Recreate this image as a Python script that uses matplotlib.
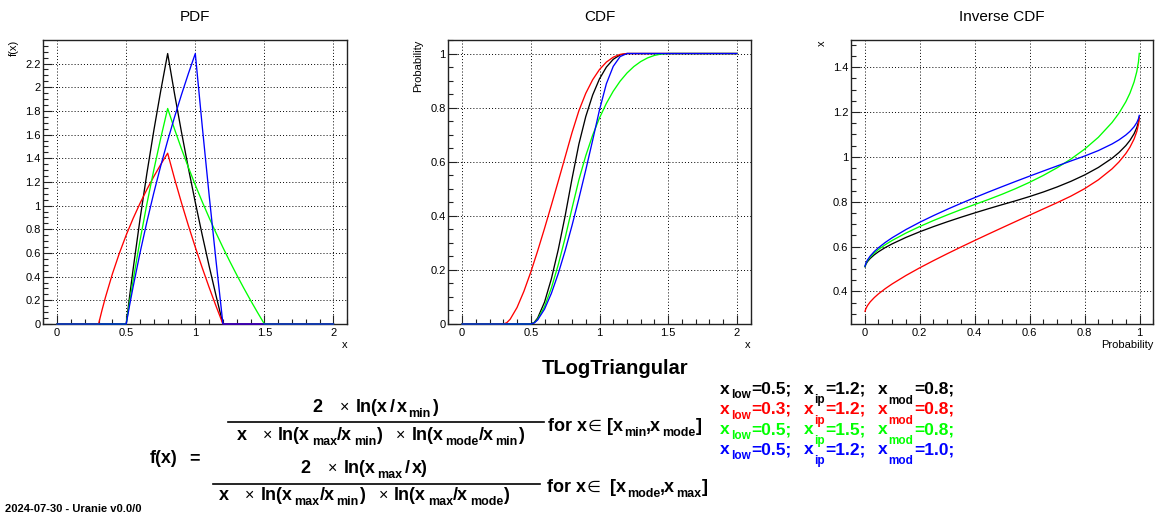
import matplotlib
matplotlib.use('Agg')
import matplotlib.pyplot as plt
from matplotlib.ticker import MultipleLocator, FuncFormatter
from matplotlib.lines import Line2D

plt.rcParams['font.family'] = ['Liberation Sans', 'DejaVu Sans']

# ---------------- data ----------------
colors = ['black', 'red', '#00ff00', 'blue']

x_low = [0.5, 0.3, 0.5, 0.5]
x_ip = [1.2, 1.2, 1.5, 1.2]
x_mod = [0.8, 0.8, 0.8, 1.0]

x_black = [0.0, 0.5, 0.525, 0.55, 0.6, 0.65, 0.7, 0.75, 0.8, 0.85, 0.9, 0.95, 1.0, 1.05, 1.1, 1.15, 1.2,
           2.0]
x_red = [0.0, 0.3, 0.325, 0.35, 0.4, 0.45, 0.5, 0.55, 0.6, 0.65, 0.7, 0.75, 0.8, 0.85, 0.9, 0.95, 1.0,
         1.05, 1.1, 1.15, 1.2, 2.0]
x_green = [0.0, 0.5, 0.525, 0.55, 0.6, 0.65, 0.7, 0.75, 0.8, 0.85, 0.9, 0.95, 1.0, 1.05, 1.1, 1.15, 1.2,
           1.25, 1.3, 1.35, 1.4, 1.45, 1.5, 2.0]
x_blue = [0.0, 0.5, 0.525, 0.55, 0.6, 0.65, 0.7, 0.75, 0.8, 0.85, 0.9, 0.95, 1.0, 1.05, 1.1, 1.15, 1.2,
          2.0]

pdf_black = [0, 0, 0.2372, 0.4633, 0.8862, 1.2752, 1.6355, 1.9708, 2.2845, 1.9429, 1.6209, 1.3163,
             1.0273, 0.7524, 0.4902, 0.2398, 0, 0]
pdf_red = [0, 0, 0.1177, 0.2267, 0.4231, 0.5964, 0.7514, 0.8916, 1.0195, 1.1373, 1.2463, 1.3478,
           1.4427, 1.2270, 1.0236, 0.8312, 0.6487, 0.4751, 0.3096, 0.1514, 0, 0]
pdf_green = [0, 0, 0.1890, 0.3692, 0.7062, 1.0162, 1.3033, 1.5705, 1.8205, 1.6449, 1.4794, 1.3228,
             1.1742, 1.0330, 0.8982, 0.7695, 0.6462, 0.5280, 0.4144, 0.3051, 0.1998, 0.0982, 0, 0]
pdf_blue = [0, 0, 0.1608, 0.3141, 0.6009, 0.8647, 1.1089, 1.3363, 1.5490, 1.7489, 1.9372, 2.1154,
            2.2845, 1.6731, 1.0903, 0.5333, 0, 0]

cdf_black = [0, 0, 0.0058, 0.0221, 0.0808, 0.1673, 0.2751, 0.3996, 0.5369, 0.6650, 0.7669, 0.8463,
             0.9064, 0.9498, 0.9787, 0.9949, 1, 1]
cdf_red = [0, 0, 0.0047, 0.0175, 0.0609, 0.1209, 0.1919, 0.2702, 0.3533, 0.4397, 0.5280, 0.6175,
           0.7075, 0.7884, 0.8528, 0.9029, 0.9409, 0.9683, 0.9865, 0.9968, 1, 1]
cdf_green = [0, 0, 0.0046, 0.0176, 0.0644, 0.1333, 0.2193, 0.3184, 0.4278, 0.5329, 0.6221, 0.6979,
             0.7619, 0.8158, 0.8607, 0.8978, 0.9279, 0.9519, 0.9703, 0.9839, 0.9931, 0.9983, 1, 1]
cdf_blue = [0, 0, 0.0039, 0.0150, 0.0548, 0.1134, 0.1866, 0.2709, 0.3640, 0.4640, 0.5693, 0.6789,
            0.7917, 0.8883, 0.9526, 0.9887, 1, 1]

prob = [0.001, 0.004, 0.01, 0.02, 0.035, 0.05, 0.075, 0.1, 0.15, 0.2, 0.25, 0.3, 0.35, 0.4, 0.45, 0.5,
        0.55, 0.6, 0.65, 0.7, 0.75, 0.8, 0.85, 0.9, 0.925, 0.95, 0.965, 0.98, 0.99, 0.996, 0.999]
inv_black = [0.5102, 0.5207, 0.5331, 0.5475, 0.5638, 0.5771, 0.5960, 0.6124, 0.6410, 0.6661, 0.6891,
             0.7105, 0.7308, 0.7502, 0.7689, 0.7870, 0.8046, 0.8233, 0.8435, 0.8659, 0.8909, 0.9193,
             0.9527, 0.9939, 1.0193, 1.0503, 1.0734, 1.1030, 1.1306, 1.1556, 1.1776]
inv_red = [0.3113, 0.3230, 0.3371, 0.3538, 0.3731, 0.3894, 0.4129, 0.4338, 0.4713, 0.5054, 0.5374,
           0.5682, 0.5980, 0.6272, 0.6559, 0.6842, 0.7123, 0.7403, 0.7681, 0.7958, 0.8249, 0.8582,
           0.8976, 0.9467, 0.9773, 1.0148, 1.0430, 1.0793, 1.1133, 1.1444, 1.1719]
inv_green = [0.5115, 0.5232, 0.5373, 0.5535, 0.5719, 0.5872, 0.6087, 0.6276, 0.6604, 0.6895, 0.7162,
             0.7411, 0.7649, 0.7877, 0.8099, 0.8335, 0.8590, 0.8868, 0.9174, 0.9515, 0.9900, 1.0344,
             1.0872, 1.1534, 1.1947, 1.2456, 1.2840, 1.3337, 1.3804, 1.4232, 1.4611]
inv_blue = [0.5125, 0.5253, 0.5405, 0.5582, 0.5784, 0.5951, 0.6189, 0.6397, 0.6761, 0.7084, 0.7381,
            0.7661, 0.7927, 0.8183, 0.8432, 0.8673, 0.8910, 0.9142, 0.9370, 0.9595, 0.9817, 1.0037,
            1.0280, 1.0576, 1.0756, 1.0974, 1.1136, 1.1341, 1.1530, 1.1701, 1.1849]

xs = [x_black, x_red, x_green, x_blue]
pdfs = [pdf_black, pdf_red, pdf_green, pdf_blue]
cdfs = [cdf_black, cdf_red, cdf_green, cdf_blue]
invs = [inv_black, inv_red, inv_green, inv_blue]

# ---------------- figure ----------------
W, H = 1157, 518
fig = plt.figure(figsize=(W / 100, H / 100), dpi=100)
renderer = fig.canvas.get_renderer()


def fxp(px):
    return px / W


def fyp(py):
    return 1 - py / H


FRAME = '#222222'


def fmt(v, pos):
    return f'{v:g}'


def make_axes(left, right, xlim, ylim, xmaj, xmin, ymaj, ymin):
    ax = fig.add_axes([fxp(left), fyp(324), (right - left) / W, (324 - 40) / H])
    ax.set_xlim(*xlim)
    ax.set_ylim(*ylim)
    ax.xaxis.set_major_locator(MultipleLocator(xmaj))
    ax.xaxis.set_minor_locator(MultipleLocator(xmin))
    ax.yaxis.set_major_locator(MultipleLocator(ymaj))
    ax.yaxis.set_minor_locator(MultipleLocator(ymin))
    ax.xaxis.set_major_formatter(FuncFormatter(fmt))
    ax.yaxis.set_major_formatter(FuncFormatter(fmt))
    ax.tick_params(which='both', direction='in', top=False, right=False,
                   labelsize=8, color=FRAME, width=0.8)
    ax.tick_params(which='major', length=6.5)
    ax.tick_params(which='minor', length=3.3)
    ax.tick_params(axis='x', pad=3)
    ax.tick_params(axis='y', pad=2)
    for s in ax.spines.values():
        s.set_color(FRAME)
        s.set_linewidth(1.0)
    ax.set_axisbelow(True)
    ax.grid(which='major', color='black', linestyle=(0, (1, 2.2)), linewidth=0.7)
    return ax


ax1 = make_axes(43.3, 347.3, (-0.1, 2.1), (0, 2.399), 0.5, 0.1, 0.2, 0.05)
ax2 = make_axes(448.3, 750.7, (-0.1, 2.1), (0, 1.05), 0.5, 0.1, 0.2, 0.05)
ax3 = make_axes(851.0, 1153.3, (-0.05, 1.05), (0.255, 1.521), 0.2, 0.05, 0.2, 0.05)

for x, p, c, col in zip(xs, pdfs, cdfs, colors):
    ax1.plot(x, p, color=col, lw=0.95, zorder=3, clip_on=False)
    ax2.plot(x, c, color=col, lw=0.95, zorder=3, clip_on=False)
for inv, col in zip(invs, colors):
    ax3.plot(prob, inv, color=col, lw=0.95, zorder=3)

# titles
for cx, t in [(195.3, 'PDF'), (599.5, 'CDF'), (1002.0, 'Inverse CDF')]:
    fig.text(fxp(cx), fyp(17), t, fontsize=11, ha='center', va='center')

# axis titles
ax1.text(-0.096, 1.0, 'f(x)', transform=ax1.transAxes, rotation=90, ha='center', va='top', fontsize=8)
ax1.text(1.0, -0.074, 'x', transform=ax1.transAxes, ha='right', va='center', fontsize=8)
ax2.text(-0.099, 1.0, 'Probability', transform=ax2.transAxes, rotation=90, ha='center', va='top', fontsize=8)
ax2.text(1.0, -0.074, 'x', transform=ax2.transAxes, ha='right', va='center', fontsize=8)
ax3.text(-0.095, 1.0, 'x', transform=ax3.transAxes, rotation=90, ha='center', va='top', fontsize=8)
ax3.text(1.0, -0.074, 'Probability', transform=ax3.transAxes, ha='right', va='center', fontsize=8)

# ---------------- lower text ----------------
fig.text(fxp(615), fyp(368), 'TLogTriangular', fontsize=14.5, fontweight='bold', ha='center', va='center')

FM, FSUB, FOP, DROP = 13.0, 9.0, 11.5, 5.0


def seq(pieces, x, yb, align='left', color='black'):
    """Lay out text pieces left to right: ('txt','m') main bold, ('txt','s') subscript,
    ('txt','o') normal-weight operator, numbers = gaps in pixels."""
    items = []
    total = 0.0
    for p in pieces:
        if isinstance(p, (int, float)):
            items.append((None, p, None))
            total += p
            continue
        txt, kind = p
        fs = {'s': FSUB, 'o': FOP}.get(kind, FM)
        fw = 'normal' if kind == 'o' else 'bold'
        t = fig.text(0, 0, txt, fontsize=fs, fontweight=fw, color=color, va='baseline', ha='left')
        w = t.get_window_extent(renderer).width
        items.append((t, w, kind))
        total += w
    cur = x - total / 2 if align == 'center' else x
    for t, w, kind in items:
        if t is not None:
            dy = DROP if kind == 's' else 0
            t.set_position((fxp(cur), fyp(yb + dy)))
        cur += w


TIMES = '\u00d7'
seq([('2', 'm'), 18, (TIMES, 'o'), 6, ('ln(x', 'm'), 2, ('/', 'm'), 2, ('x', 'm'), 2, ('min', 's'),
     1, (')', 'm')], 375, 412, 'center')
fig.add_artist(Line2D([fxp(228), fxp(544)], [fyp(422), fyp(422)], color='black', lw=1.2))
seq([('x', 'm'), 16, (TIMES, 'o'), 6, ('ln(x', 'm'), 2, ('max', 's'), ('/x', 'm'), 2, ('min', 's'),
     (')', 'm'), 14, (TIMES, 'o'), 6, ('ln(x', 'm'), 2, ('mode', 's'), ('/x', 'm'), 2, ('min', 's'),
     (')', 'm')], 380, 440, 'center')
seq([('for x', 'm'), 1, ('\u2208', 'o'), 5, ('[x', 'm'), 1, ('min', 's'), (',x', 'm'), 1, ('mode', 's'),
     (']', 'm')], 548, 431)
seq([('f(x)', 'm'), 11, ('=', 'm')], 150, 463)
seq([('2', 'm'), 18, (TIMES, 'o'), 6, ('ln(x', 'm'), 2, ('max', 's'), 2, ('/', 'm'), 2, ('x)', 'm')],
    364, 473, 'center')
fig.add_artist(Line2D([fxp(213), fxp(540)], [fyp(484), fyp(484)], color='black', lw=1.2))
seq([('x', 'm'), 16, (TIMES, 'o'), 6, ('ln(x', 'm'), 2, ('max', 's'), ('/x', 'm'), 2, ('min', 's'),
     (')', 'm'), 14, (TIMES, 'o'), 6, ('ln(x', 'm'), 2, ('max', 's'), ('/x', 'm'), 2, ('mode', 's'),
     (')', 'm')], 364, 500, 'center')
seq([('for x', 'm'), 1, ('\u2208', 'o'), 9, ('[x', 'm'), 1, ('mode', 's'), (',x', 'm'), 1, ('max', 's'),
     (']', 'm')], 547, 492)

# parameter legend
MAIN, SUB = 12.5, 8.5
for i, col in enumerate(colors):
    yb = 393.5 + 20.3 * i
    kw = dict(color=col, fontweight='bold', va='baseline', ha='left')
    fig.text(fxp(720), fyp(yb), 'x', fontsize=MAIN, **kw)
    fig.text(fxp(730.7), fyp(yb + 5), 'low', fontsize=SUB, **kw)
    fig.text(fxp(751.7), fyp(yb), f'={x_low[i]:.1f};', fontsize=MAIN, **kw)
    fig.text(fxp(804.3), fyp(yb), 'x', fontsize=MAIN, **kw)
    fig.text(fxp(814.3), fyp(yb + 10), 'ip', fontsize=SUB, **kw)
    fig.text(fxp(825.7), fyp(yb), f'={x_ip[i]:.1f};', fontsize=MAIN, **kw)
    fig.text(fxp(878.3), fyp(yb), 'x', fontsize=MAIN, **kw)
    fig.text(fxp(888.3), fyp(yb + 10), 'mod', fontsize=SUB, **kw)
    fig.text(fxp(914.0), fyp(yb), f'={x_mod[i]:.1f};', fontsize=MAIN, **kw)

fig.text(fxp(5), fyp(512), '2024-07-30 - Uranie v0.0/0', fontsize=8, fontweight='bold', va='baseline', ha='left')

fig.savefig('out.png', dpi=100)
